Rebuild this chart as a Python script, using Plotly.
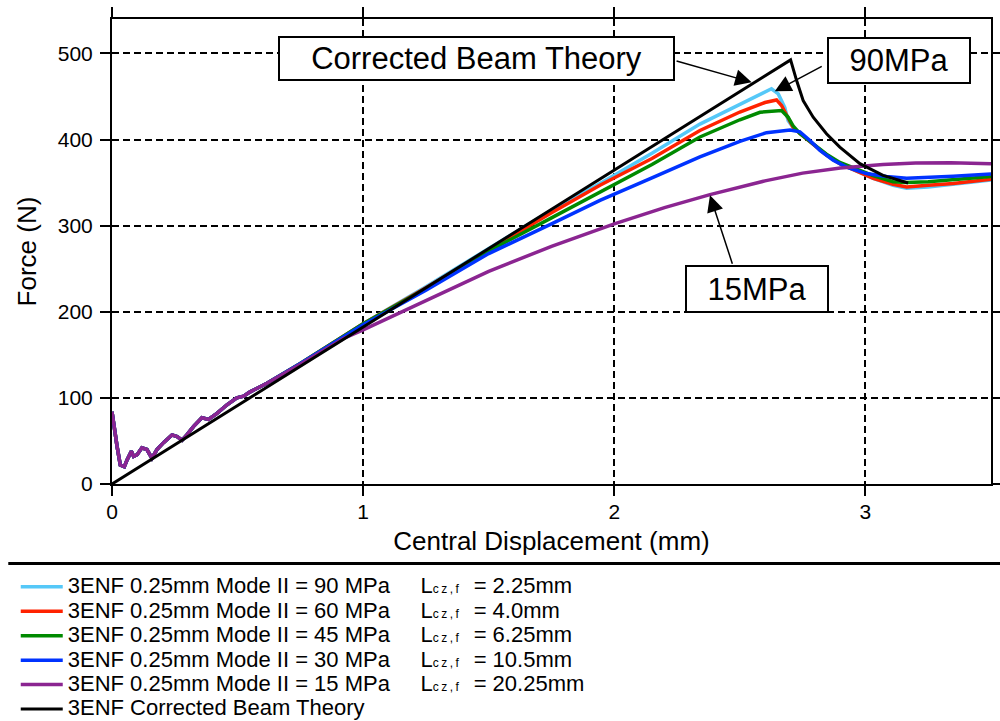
import plotly.graph_objects as go

FONT = "Liberation Sans, Arial, Helvetica, sans-serif"

# Initial loading ramp (contact settling) shared by all FE runs
x_ramp = [0, 0.006, 0.02, 0.033, 0.049, 0.06, 0.077, 0.086, 0.1, 0.119, 0.139, 0.159,
          0.179, 0.205, 0.239, 0.259, 0.279, 0.298, 0.325, 0.358, 0.384, 0.418, 0.458,
          0.497, 0.524, 0.55, 0.617]
f_ramp = [84, 71, 44, 22, 20, 28, 38, 32, 34, 42, 40, 30,
          40, 48, 57, 55, 51, 57, 67, 77, 75, 82, 92,
          100, 102, 107, 117]

# Mode II = 90 MPa
x_90 = [0.75, 1.0, 1.25, 1.5, 1.75, 1.943, 2.15, 2.341, 2.5, 2.58, 2.626, 2.653, 2.679,
        2.692, 2.712, 2.739, 2.792, 2.845, 2.898, 2.964, 3.031, 3.11, 3.164, 3.25, 3.35, 3.5]
f_90 = [140, 186, 229, 273, 318, 349, 384, 418, 441, 453, 459, 453, 437,
        422, 414, 407, 395, 382, 372, 364, 355, 347, 343.5, 345, 348, 353]

# Mode II = 60 MPa
x_60 = [0.75, 1.0, 1.25, 1.5, 1.75, 1.943, 2.15, 2.341, 2.5, 2.6, 2.646, 2.666, 2.686,
        2.712, 2.739, 2.792, 2.845, 2.898, 2.964, 3.031, 3.11, 3.164, 3.25, 3.35, 3.5]
f_60 = [140, 186, 228, 272, 315, 347, 378, 410.5, 432, 443, 446, 439.5, 428,
        414, 407, 395, 382, 372, 364, 355, 348, 345, 347, 349, 354]

# Mode II = 45 MPa
x_45 = [0.75, 1.0, 1.25, 1.5, 1.75, 1.943, 2.15, 2.341, 2.5, 2.58, 2.666, 2.692, 2.712,
        2.739, 2.792, 2.845, 2.898, 2.964, 3.031, 3.11, 3.164, 3.25, 3.35, 3.5]
f_45 = [140, 186, 227, 270.5, 309, 339, 371, 403, 423, 431.7, 433.7, 426, 416,
        407, 395.5, 383, 373.5, 366, 358, 351, 350, 351, 353, 357]

# Mode II = 30 MPa
x_30 = [0.75, 1.0, 1.25, 1.5, 1.75, 1.943, 2.15, 2.341, 2.5, 2.606, 2.7, 2.739, 2.779,
        2.819, 2.872, 2.925, 3.004, 3.084, 3.164, 3.25, 3.35, 3.5]
f_30 = [140, 185, 225, 267.6, 302, 329.4, 355.5, 380, 398, 408, 411, 409, 399,
        387.5, 376, 368, 360.5, 357, 355, 356, 357.5, 360]

# Mode II = 15 MPa
x_15 = [0.75, 0.922, 1.0, 1.253, 1.5, 1.75, 2.0, 2.2, 2.381, 2.6, 2.75, 2.9, 3.07,
        3.2, 3.34, 3.5]
f_15 = [139, 169, 179, 213.6, 247, 276, 302, 321, 336, 352, 361, 367, 371,
        372.7, 373, 372]

# Corrected beam theory
x_cbt = [0, 2.702, 2.726, 2.752, 2.792, 2.845, 2.898, 2.978, 3.07, 3.17]
f_cbt = [0, 492.5, 468.5, 445.3, 426, 406.7, 391.2, 372, 358.4, 349.5]

strengths = ["90", "60", "45", "30", "15"]
cz_lengths = ["2.25", "4.0", "6.25", "10.5", "20.25"]
colors = ["#55C8F8", "#FF2200", "#008A00", "#0033FF", "#8B2591"]
series_x = [x_90, x_60, x_45, x_30, x_15]
series_f = [f_90, f_60, f_45, f_30, f_15]

NB = "\u00a0"


def entry_name(s, L):
    return ('<span style="font-size:22px">3ENF 0.25mm Mode II = ' + s + ' MPa'
            + NB * 5 + 'L</span>'
            + '<span style="font-size:12px;letter-spacing:2.5px">cz,f</span>'
            + '<span style="font-size:22px">' + NB * 2 + '= ' + L + 'mm</span>')


fig = go.Figure()
for s, L, c, xs, fs in zip(strengths, cz_lengths, colors, series_x, series_f):
    fig.add_trace(go.Scatter(
        x=x_ramp + xs, y=f_ramp + fs, mode="lines",
        line=dict(color=c, width=3.5),
        name=entry_name(s, L),
    ))
fig.add_trace(go.Scatter(
    x=x_cbt, y=f_cbt, mode="lines",
    line=dict(color="black", width=3),
    name='<span style="font-size:22px">3ENF Corrected Beam Theory</span>',
))

axis_common = dict(
    showline=True, linecolor="black", linewidth=2, mirror="ticks",
    ticks="outside", ticklen=10, tickwidth=2, tickcolor="black",
    showgrid=True, gridcolor="black", gridwidth=2, griddash="7px,4px",
    zeroline=False, tickfont=dict(family=FONT, size=21, color="black"),
)

fig.update_xaxes(range=[0, 3.5], dtick=1, tick0=0, ticklabelstandoff=-2,
                 title=dict(text="Central Displacement (mm)",
                            font=dict(family=FONT, size=26, color="black"), standoff=10),
                 **axis_common)
fig.update_yaxes(range=[0, 540], dtick=100, tick0=0, ticklabelstandoff=3,
                 title=dict(text="Force (N)",
                            font=dict(family=FONT, size=26, color="black"), standoff=14),
                 **axis_common)

box = dict(showarrow=False, bgcolor="white", bordercolor="black", borderwidth=2,
           borderpad=0, font=dict(family=FONT, size=31, color="black"),
           xref="x", yref="y")
arrow = dict(text="", showarrow=True, arrowhead=2, arrowsize=2.2, arrowwidth=1.5,
             arrowcolor="black", xref="x", yref="y", axref="x", ayref="y")

annotations = [
    dict(x=2.547, y=466.5, ax=2.242, ay=491.7, **arrow),
    dict(x=2.639, y=456, ax=2.832, ay=485.9, **arrow),
    dict(x=2.381, y=335.2, ax=2.472, ay=254.1, **arrow),
    dict(x=1.452, y=493.7, text="Corrected Beam Theory", width=393, height=41, **box),
    dict(x=3.132, y=491.3, text="90MPa", width=140, height=43, **box),
    dict(x=2.568, y=226.3, text="15MPa", width=140, height=44, **box),
]

fig.update_layout(
    width=1000, height=721,
    margin=dict(l=112, r=9, t=19, b=237, autoexpand=False),
    paper_bgcolor="white", plot_bgcolor="white",
    font=dict(family=FONT, color="black"),
    showlegend=True,
    legend=dict(x=-0.1095, y=-0.184, xanchor="left", yanchor="top",
                font=dict(family=FONT, size=16.5, color="black"),
                itemwidth=42, bgcolor="rgba(0,0,0,0)", borderwidth=0,
                tracegroupgap=0),
    annotations=annotations,
    shapes=[dict(type="line", xref="paper", yref="paper",
                 x0=-0.118, x1=1.02, y0=-0.171, y1=-0.171,
                 line=dict(color="black", width=3))],
)

fig.write_html("out.html")
